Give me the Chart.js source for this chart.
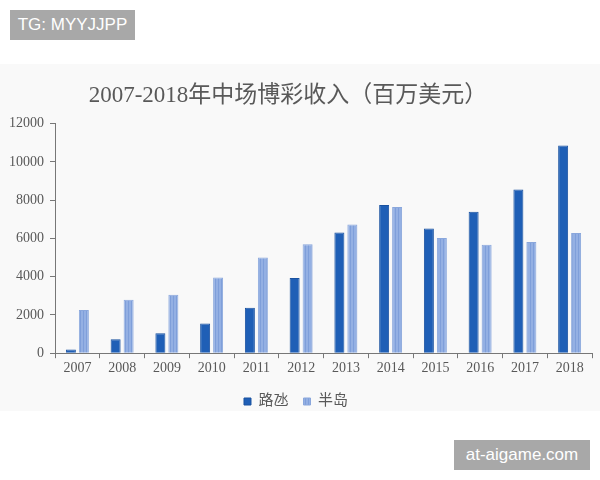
<!DOCTYPE html>
<html>
<head>
<meta charset="utf-8">
<script src="https://cdn.jsdelivr.net/npm/chart.js@4.4.0/dist/chart.umd.min.js"></script>
<style>
  html, body { margin: 0; padding: 0; background: #fff; }
  #wrap { position: relative; width: 600px; height: 480px; overflow: hidden; }
  #panel { position: absolute; left: 0; top: 64px; width: 600px; height: 347px; background: #f9f9f9; }
  #box { position: absolute; left: 0; top: 0; width: 600px; height: 480px; }
  .mark { position: absolute; background: #a8a8a8; color: #fff; font-family: "Liberation Sans", Arial, sans-serif; font-size: 17px; line-height: 30px; text-align: center; }
</style>
</head>
<body>
<div id="wrap">
  <div id="panel"></div>
  <div id="box"><canvas id="chart" width="600" height="480"></canvas></div>
  <div class="mark" style="left:10px; top:10px; width:125px; height:30px;">TG: MYYJJPP</div>
  <div class="mark" style="left:454px; top:440px; width:136px; height:30px;">at-aigame.com</div>
</div>
<script>
// 数据：年份、路氹、半岛（百万美元）
const years = ['2007', '2008', '2009', '2010', '2011', '2012', '2013', '2014', '2015', '2016', '2017', '2018'];
const cotai = [190, 730, 1040, 1550, 2370, 3930, 6310, 7740, 6520, 7390, 8550, 10850];
const peninsula = [2260, 2800, 3060, 3950, 5000, 5700, 6730, 7640, 6020, 5670, 5810, 6280];
const yTicks = [0, 2000, 4000, 6000, 8000, 10000, 12000];

// 半岛柱子的竖条纹理
function stripes() {
    const c = document.createElement('canvas');
    c.width = 3; c.height = 4;
    const g = c.getContext('2d');
    g.fillStyle = '#94b0e3';
    g.fillRect(0, 0, 3, 4);
    g.fillStyle = '#7f9fda';
    g.fillRect(2, 0, 1, 4);
    return g.createPattern(c, 'repeat');
}

const serif = "'Liberation Serif', 'DejaVu Serif', 'Noto Sans CJK SC', serif";
const grey = '#595959';

// 标题整体略偏左
const shiftTitle = {
    id: 'shiftTitle',
    afterLayout(chart) {
        chart.titleBlock.left -= 8;
        chart.titleBlock.right -= 8;
    }
};

const ctx = document.getElementById('chart').getContext('2d');
new Chart(ctx, {
    type: 'bar',
    data: {
        labels: years,
        datasets: [{
            label: '路氹',
            data: cotai,
            backgroundColor: '#1f5fb6',
            borderColor: '#1a52a0',
            borderWidth: 1
        }, {
            label: '半岛',
            data: peninsula,
            backgroundColor: stripes(),
            borderColor: '#8aa7dc',
            borderWidth: 1
        }]
    },
    plugins: [shiftTitle],
    options: {
        responsive: false,
        animation: false,
        categoryPercentage: 0.58,
        barPercentage: 0.77,
        layout: { padding: { left: 0, right: 8, top: 0, bottom: 61 } },
        plugins: {
            title: {
                display: true,
                text: '2007-2018年中场博彩收入（百万美元）',
                color: grey,
                font: { family: serif, size: 23, weight: 'normal' },
                padding: { top: 82, bottom: 14 }
            },
            legend: {
                position: 'bottom',
                labels: {
                    color: grey,
                    font: { family: serif, size: 15 },
                    boxWidth: 7,
                    boxHeight: 7,
                    padding: 15
                }
            },
            tooltip: { enabled: false }
        },
        scales: {
            x: {
                grid: { drawOnChartArea: false, color: '#777', tickLength: 5 },
                border: { color: '#777' },
                ticks: { color: grey, font: { family: serif, size: 14 }, padding: 2 }
            },
            y: {
                min: 0,
                max: 12000,
                afterBuildTicks(scale) {
                    scale.ticks = yTicks.map(v => ({ value: v }));
                },
                afterFit(scale) { scale.width = 55; },
                grid: { drawOnChartArea: false, color: '#777', tickLength: 5 },
                border: { color: '#777' },
                ticks: {
                    color: grey,
                    font: { family: serif, size: 14 },
                    padding: 6,
                    callback: v => String(v)
                }
            }
        }
    }
});
</script>
</body>
</html>
